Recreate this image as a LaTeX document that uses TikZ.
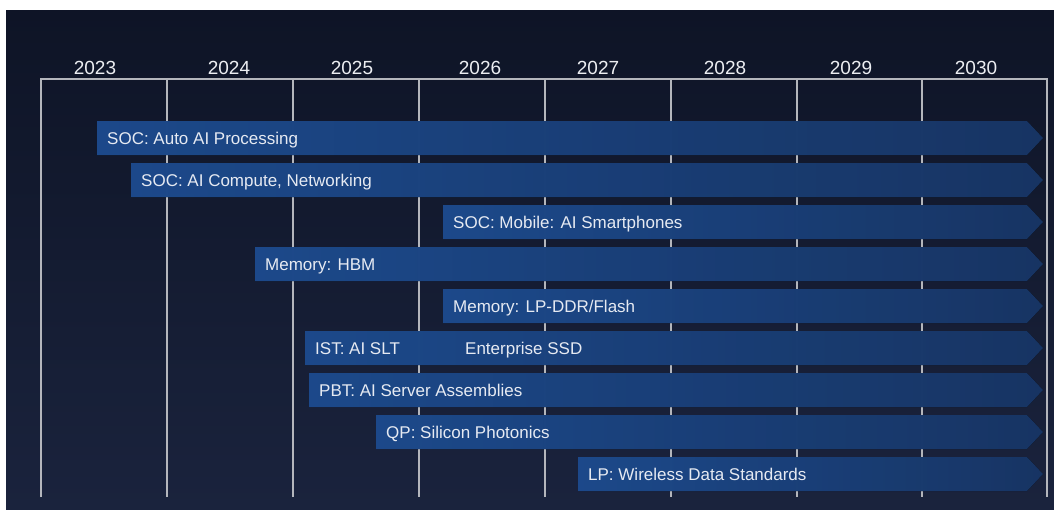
\documentclass[tikz,border=0pt]{standalone}
\usepackage{fontspec}
\setmainfont{Liberation Sans}
\usepackage{xcolor}
\usetikzlibrary{positioning}

\definecolor{bgtop}{HTML}{0E1426}
\definecolor{bgbot}{HTML}{1A233D}
\definecolor{gridline}{HTML}{B4B6BC}
\definecolor{barleft}{HTML}{1F4F96}
\definecolor{barright}{HTML}{19396C}
\definecolor{bartxt}{HTML}{E6EAF2}
\definecolor{yeartxt}{HTML}{ECEEF2}

\begin{document}
\begin{tikzpicture}[x=1pt, y=-1pt,
    year/.style={anchor=base, inner sep=0pt, font=\fontsize{19}{19}\selectfont, text=yeartxt},
    bartext/.style={anchor=base west, inner sep=0pt, font=\fontsize{17}{17}\selectfont, text=bartxt},
    barfill/.style={left color=barleft, right color=barright, opacity=0.92},
    grid/.style={draw=gridline, line width=1.4pt}
]
    \useasboundingbox (0,0) rectangle (1054,509);

    % Background
    \fill[white] (0,0) rectangle (1054,509);
    \shade[top color=bgtop, bottom color=bgbot] (6,10) rectangle (1054,509);

    % Years
    \foreach \yr/\x in {2023/95, 2024/229, 2025/352, 2026/480, 2027/598, 2028/725, 2029/851, 2030/976}
        \node[year] (y\yr) at (\x,74) {\yr};

    % Grid
    \draw[grid] (41,497) -- (41,79) -- (1047,79) -- (1047,497);
    \foreach \x in {167, 293, 419, 545, 671, 797, 922}
        \draw[grid] (\x,79) -- (\x,497);

    % Bars
    \foreach \x/\r/\nm/\txt in {97/0/auto/{SOC: Auto AI Processing},
                                131/1/compute/{SOC: AI Compute, Networking},
                                443/2/mobile/{SOC: Mobile: AI Smartphones},
                                255/3/hbm/{Memory: HBM},
                                443/4/lpddr/{Memory: LP-DDR/Flash},
                                305/5/slt/{IST: AI SLT},
                                309/6/pbt/{PBT: AI Server Assemblies},
                                376/7/qp/{QP: Silicon Photonics},
                                578/8/lp/{LP: Wireless Data Standards}} {
        \pgfmathsetmacro{\top}{121+42*\r}
        \fill[barfill] (\x,\top) -- (1027,\top) -- (1043,\top+17) -- (1027,\top+34) -- (\x,\top+34) -- cycle;
        \node[bartext] (\nm) at (\x+10,\top+23) {\txt};
    }
    \node[bartext] (ssd) at (465,121+42*5+23) {Enterprise SSD};
\end{tikzpicture}
\end{document}
